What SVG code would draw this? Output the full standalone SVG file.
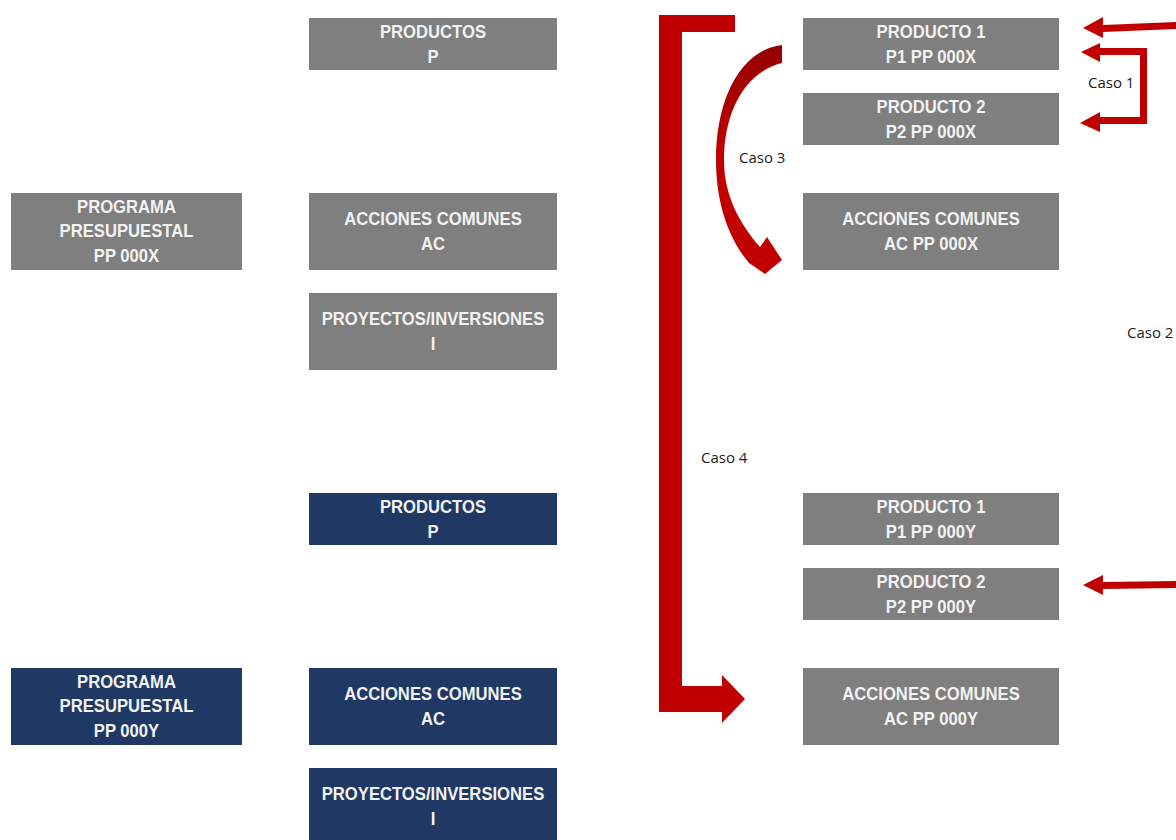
<svg xmlns="http://www.w3.org/2000/svg" width="1176" height="840" viewBox="0 0 1176 840">
<defs>
<style>
.g{fill:#7f7f7f}
.n{fill:#1f3864}
.t{font-family:"Liberation Sans",Arial,sans-serif;font-weight:bold;font-size:18px;fill:#f2f2f2;text-anchor:middle}
.c{font-family:"Open Sans","Liberation Sans",sans-serif;font-size:15px;fill:#1a1a1a}
.r{fill:#c00000}
</style>
<linearGradient id="cg" x1="0" y1="0" x2="0" y2="1">
<stop offset="0" stop-color="#960000"/>
<stop offset="0.5" stop-color="#c00000"/>
<stop offset="1" stop-color="#c00000"/>
</linearGradient>
</defs>
<rect width="1176" height="840" fill="#ffffff"/>

<g id="productos-x"><rect class="g" x="309" y="18" width="248" height="52"/>
<text class="t" transform="translate(433,38) scale(0.925,1)"><tspan x="0">PRODUCTOS</tspan><tspan x="0" dy="25">P</tspan></text></g>

<g id="programa-x"><rect class="g" x="11" y="193" width="231" height="77"/>
<text class="t" transform="translate(126.5,213) scale(0.925,1)"><tspan x="0">PROGRAMA</tspan><tspan x="0" dy="24.5">PRESUPUESTAL</tspan><tspan x="0" dy="24.5">PP 000X</tspan></text></g>

<g id="acciones-x"><rect class="g" x="309" y="193" width="248" height="77"/>
<text class="t" transform="translate(433,225) scale(0.925,1)"><tspan x="0">ACCIONES COMUNES</tspan><tspan x="0" dy="25">AC</tspan></text></g>

<g id="proyectos-x"><rect class="g" x="309" y="293" width="248" height="77"/>
<text class="t" transform="translate(433,325) scale(0.925,1)"><tspan x="0">PROYECTOS/INVERSIONES</tspan><tspan x="0" dy="25">I</tspan></text></g>

<g id="productos-y"><rect class="n" x="309" y="493" width="248" height="52"/>
<text class="t" transform="translate(433,513) scale(0.925,1)"><tspan x="0">PRODUCTOS</tspan><tspan x="0" dy="25">P</tspan></text></g>

<g id="programa-y"><rect class="n" x="11" y="668" width="231" height="77"/>
<text class="t" transform="translate(126.5,688) scale(0.925,1)"><tspan x="0">PROGRAMA</tspan><tspan x="0" dy="24.5">PRESUPUESTAL</tspan><tspan x="0" dy="24.5">PP 000Y</tspan></text></g>

<g id="acciones-y"><rect class="n" x="309" y="668" width="248" height="77"/>
<text class="t" transform="translate(433,700) scale(0.925,1)"><tspan x="0">ACCIONES COMUNES</tspan><tspan x="0" dy="25">AC</tspan></text></g>

<g id="proyectos-y"><rect class="n" x="309" y="768" width="248" height="80"/>
<text class="t" transform="translate(433,800) scale(0.925,1)"><tspan x="0">PROYECTOS/INVERSIONES</tspan><tspan x="0" dy="25">I</tspan></text></g>

<g id="producto1-x"><rect class="g" x="803" y="18" width="256" height="52"/>
<text class="t" transform="translate(931,38) scale(0.925,1)"><tspan x="0">PRODUCTO 1</tspan><tspan x="0" dy="25">P1 PP 000X</tspan></text></g>

<g id="producto2-x"><rect class="g" x="803" y="93" width="256" height="52"/>
<text class="t" transform="translate(931,113) scale(0.925,1)"><tspan x="0">PRODUCTO 2</tspan><tspan x="0" dy="25">P2 PP 000X</tspan></text></g>

<g id="acciones-pp-x"><rect class="g" x="803" y="193" width="256" height="77"/>
<text class="t" transform="translate(931,225) scale(0.925,1)"><tspan x="0">ACCIONES COMUNES</tspan><tspan x="0" dy="25">AC PP 000X</tspan></text></g>

<g id="producto1-y"><rect class="g" x="803" y="493" width="256" height="52"/>
<text class="t" transform="translate(931,513) scale(0.925,1)"><tspan x="0">PRODUCTO 1</tspan><tspan x="0" dy="25">P1 PP 000Y</tspan></text></g>

<g id="producto2-y"><rect class="g" x="803" y="568" width="256" height="52"/>
<text class="t" transform="translate(931,588) scale(0.925,1)"><tspan x="0">PRODUCTO 2</tspan><tspan x="0" dy="25">P2 PP 000Y</tspan></text></g>

<g id="acciones-pp-y"><rect class="g" x="803" y="668" width="256" height="77"/>
<text class="t" transform="translate(931,700) scale(0.925,1)"><tspan x="0">ACCIONES COMUNES</tspan><tspan x="0" dy="25">AC PP 000Y</tspan></text></g>

<g id="connectors">
<path class="r" d="M735 15 L659 15 L659 712 L722 712 L722 723 L745 699 L722 675 L722 686 L682 686 L682 32 L735 32 Z"/>
<path fill="url(#cg)" d="M782 45 C740 50 716 100 716 160 C716 202 728 238 749 263 L765 274 L782 260 L767 237 L760 247 C740 224 724 196 724 160 C724 112 745 72 782 63 Z"/>
<path class="r" d="M1176 22 L1103 25 L1103 17 L1083 28 L1103 38 L1103 32 L1176 29 Z"/>
<path class="r" d="M1081 52 L1100 43 L1100 48 L1147 48 L1147 124 L1100 124 L1100 132 L1080 123 L1100 112 L1100 117 L1140 117 L1140 55 L1100 55 L1100 62 Z"/>
<path class="r" d="M1176 581 L1103 582 L1103 575 L1083 585 L1103 595 L1103 589 L1176 588 Z"/>
</g>

<g id="labels">
<text class="c" x="1088" y="88">Caso 1</text>
<text class="c" x="1127" y="338">Caso 2</text>
<text class="c" x="739" y="163">Caso 3</text>
<text class="c" x="701" y="463">Caso 4</text>
</g>
</svg>
